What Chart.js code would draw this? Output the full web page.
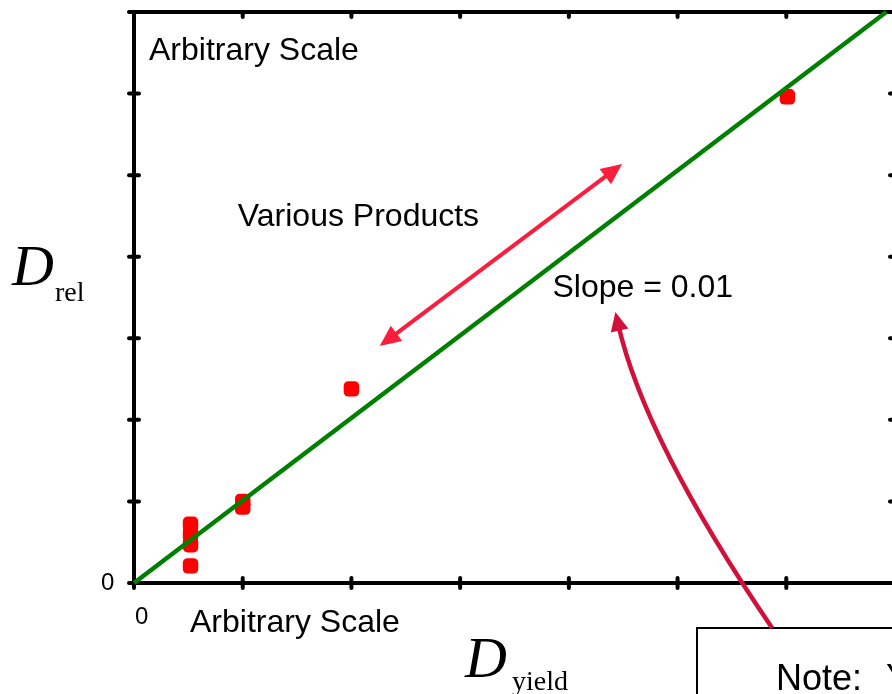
<!DOCTYPE html>
<html>
<head>
<meta charset="utf-8">
<script src="https://cdn.jsdelivr.net/npm/chart.js@4.4.1/dist/chart.umd.min.js"></script>
<style>
  html, body { margin: 0; padding: 0; background: #fff; overflow: hidden; }
  #wrap { width: 904px; height: 694px; }
</style>
</head>
<body>
<div id="wrap"><canvas id="chart"></canvas></div>
<script>
// arbitrary units, one tick per unit
const xTicks = [0, 1, 2, 3, 4, 5, 6, 7];
const yTicks = [0, 1, 2, 3, 4, 5, 6, 7];

// products (D_yield, D_rel)
const productX = [0.52, 0.52, 0.52, 0.52, 1.0, 1.0, 2.0, 6.01];
const productY = [0.72, 0.60, 0.47, 0.21, 1.0, 0.93, 2.38, 5.96];

// fitted line
const fitX = [0, 6.92];
const fitY = [0, 7];

// in-plot annotations, in data units
const labels = [
  { text: 'Arbitrary Scale', x: 0.138, y: 6.41 },
  { text: 'Various Products', x: 0.955, y: 4.377 },
  { text: 'Slope = 0.01', x: 3.849, y: 3.506 },
];
const rangeArrow = { from: [2.26, 2.905], to: [4.49, 5.137] };
const slopeArrow = { from: [5.87, -0.552], ctrl: [4.694, 1.753], to: [4.428, 3.322] };

const SANS = '"Liberation Sans", Arial, sans-serif';
const SERIF = '"Liberation Serif", "Times New Roman", serif';

function head(ctx, tx, ty, ang, len, half) {
  ctx.beginPath();
  ctx.moveTo(tx, ty);
  ctx.lineTo(tx - len * Math.cos(ang) + half * Math.sin(ang), ty - len * Math.sin(ang) - half * Math.cos(ang));
  ctx.lineTo(tx - len * Math.cos(ang) - half * Math.sin(ang), ty - len * Math.sin(ang) + half * Math.cos(ang));
  ctx.closePath();
  ctx.fill();
}

const frame = {
  id: 'frame',
  beforeDatasetsDraw(chart) {
    const { ctx, chartArea: a, scales: { x, y } } = chart;
    ctx.save();
    ctx.strokeStyle = '#000';
    ctx.lineWidth = 4;
    ctx.lineJoin = 'round';
    ctx.beginPath();
    ctx.moveTo(a.left, a.bottom);
    ctx.lineTo(a.left, a.top);
    ctx.lineTo(a.right, a.top);
    ctx.lineTo(a.right, a.bottom);
    ctx.closePath();
    ctx.stroke();

    ctx.lineWidth = 4;
    ctx.lineCap = 'round';
    ctx.beginPath();
    xTicks.forEach(v => {
      const px = x.getPixelForValue(v);
      ctx.moveTo(px, a.bottom - 5); ctx.lineTo(px, a.bottom + 5);
      ctx.moveTo(px, a.top); ctx.lineTo(px, a.top + 5);
    });
    yTicks.forEach(v => {
      const py = y.getPixelForValue(v);
      ctx.moveTo(a.left - 5, py); ctx.lineTo(a.left + 5, py);
      ctx.moveTo(a.right - 5, py); ctx.lineTo(a.right, py);
    });
    ctx.stroke();

    // origin labels
    ctx.fillStyle = '#000';
    ctx.font = '24px ' + SANS;
    ctx.fillText('0', a.left - 33, a.bottom + 7);
    ctx.fillText('0', a.left + 1, a.bottom + 41);
    ctx.font = '32px ' + SANS;
    ctx.fillText('Arbitrary Scale', a.left + 56, a.bottom + 49);

    // axis titles
    ctx.font = 'italic 58px ' + SERIF;
    ctx.fillText('D', 12, 285);
    ctx.fillText('D', 465, 677);
    ctx.font = '28px ' + SERIF;
    ctx.fillText('rel', 55, 301);
    ctx.fillText('yield', 512, 690);
    ctx.restore();
  },
  afterDatasetsDraw(chart) {
    const { ctx, scales: { x, y } } = chart;
    const px = p => [x.getPixelForValue(p[0]), y.getPixelForValue(p[1])];
    ctx.save();
    ctx.fillStyle = '#000';
    ctx.font = '32px ' + SANS;
    labels.forEach(l => ctx.fillText(l.text, x.getPixelForValue(l.x), y.getPixelForValue(l.y)));

    // double arrow
    const [x1, y1] = px(rangeArrow.from);
    const [x2, y2] = px(rangeArrow.to);
    const ang = Math.atan2(y2 - y1, x2 - x1);
    ctx.strokeStyle = '#fa1e3c';
    ctx.fillStyle = '#fa1e3c';
    ctx.lineWidth = 4;
    ctx.beginPath();
    ctx.moveTo(x1 + 14 * Math.cos(ang), y1 + 14 * Math.sin(ang));
    ctx.lineTo(x2 - 14 * Math.cos(ang), y2 - 14 * Math.sin(ang));
    ctx.stroke();
    head(ctx, x2, y2, ang, 21, 9.5);
    head(ctx, x1, y1, ang + Math.PI, 21, 9.5);

    // note box
    ctx.fillStyle = '#fff';
    ctx.fillRect(697, 628, 220, 80);
    ctx.strokeStyle = '#000';
    ctx.lineWidth = 2;
    ctx.strokeRect(697, 628, 220, 80);
    ctx.fillStyle = '#000';
    ctx.font = '36px ' + SANS;
    ctx.fillText('Note:', 776, 690);
    ctx.fillText('Y', 886, 690);

    // curved arrow from the note
    const [s0, s1] = px(slopeArrow.from);
    const [c0, c1] = px(slopeArrow.ctrl);
    const [t0, t1] = px(slopeArrow.to);
    const a2 = Math.atan2(t1 - c1, t0 - c0);
    ctx.strokeStyle = '#d0123a';
    ctx.fillStyle = '#d0123a';
    ctx.lineWidth = 4.5;
    ctx.beginPath();
    ctx.moveTo(s0, s1);
    ctx.quadraticCurveTo(c0, c1, t0 - 12 * Math.cos(a2), t1 - 12 * Math.sin(a2));
    ctx.stroke();
    head(ctx, t0, t1, a2, 19, 9);
    ctx.restore();
  }
};

new Chart(document.getElementById('chart'), {
  data: {
    datasets: [
      {
        type: 'line',
        data: fitX.map((v, i) => ({ x: v, y: fitY[i] })),
        borderColor: '#008000',
        borderWidth: 4.5,
        pointRadius: 0,
        fill: false,
        clip: false,
        order: 1,
      },
      {
        type: 'scatter',
        data: productX.map((v, i) => ({ x: v, y: productY[i] })),
        pointStyle: 'rectRounded',
        pointRadius: 9,
        backgroundColor: '#ff0000',
        borderWidth: 0,
        clip: false,
        order: 2,
      },
    ],
  },
  options: {
    responsive: true,
    maintainAspectRatio: false,
    animation: false,
    layout: { padding: { left: 134, right: 8, top: 12, bottom: 111 } },
    plugins: { legend: { display: false }, tooltip: { enabled: false } },
    scales: {
      x: { type: 'linear', min: 0, max: 7, display: false },
      y: { type: 'linear', min: 0, max: 7, display: false },
    },
  },
  plugins: [frame],
});
</script>
</body>
</html>
